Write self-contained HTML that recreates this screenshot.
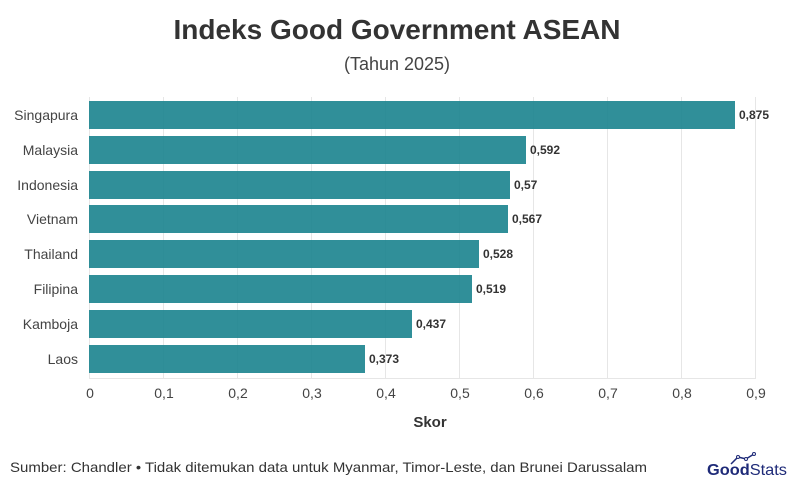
<!DOCTYPE html>
<html><head><meta charset="utf-8"><style>
body{margin:0;background:#fff;width:795px;height:490px;overflow:hidden;font-family:"Liberation Sans",sans-serif}
</style></head><body>
<svg width="795" height="490" xmlns="http://www.w3.org/2000/svg" font-family="Liberation Sans, sans-serif">
<text x="397" y="39" text-anchor="middle" font-size="28" font-weight="bold" fill="#333">Indeks Good Government ASEAN</text>
<text x="397" y="70" text-anchor="middle" font-size="18" fill="#444">(Tahun 2025)</text>
<g stroke="#e6e6e6" stroke-width="1">
<line x1="89.5" y1="97" x2="89.5" y2="378"/><line x1="163.5" y1="97" x2="163.5" y2="378"/><line x1="237.5" y1="97" x2="237.5" y2="378"/><line x1="311.5" y1="97" x2="311.5" y2="378"/><line x1="385.5" y1="97" x2="385.5" y2="378"/><line x1="459.5" y1="97" x2="459.5" y2="378"/><line x1="533.5" y1="97" x2="533.5" y2="378"/><line x1="607.5" y1="97" x2="607.5" y2="378"/><line x1="681.5" y1="97" x2="681.5" y2="378"/><line x1="755.5" y1="97" x2="755.5" y2="378"/>
<line x1="89" y1="378.5" x2="756" y2="378.5"/>
</g>
<g fill="#1e8590" fill-opacity="0.92">
<rect x="89" y="101" width="646" height="28"/>
<rect x="89" y="136" width="437" height="28"/>
<rect x="89" y="171" width="421" height="28"/>
<rect x="89" y="205" width="419" height="28"/>
<rect x="89" y="240" width="390" height="28"/>
<rect x="89" y="275" width="383" height="28"/>
<rect x="89" y="310" width="323" height="28"/>
<rect x="89" y="345" width="276" height="28"/>
</g>
<g font-size="12" font-weight="bold" fill="#333">
<text x="739" y="119">0,875</text><text x="530" y="154">0,592</text><text x="514" y="189">0,57</text><text x="512" y="223">0,567</text><text x="483" y="258">0,528</text><text x="476" y="293">0,519</text><text x="416" y="328">0,437</text><text x="369" y="363">0,373</text>
</g>
<g font-size="14" fill="#444" text-anchor="end">
<text x="78" y="120">Singapura</text><text x="78" y="155">Malaysia</text><text x="78" y="190">Indonesia</text><text x="78" y="224">Vietnam</text><text x="78" y="259">Thailand</text><text x="78" y="294">Filipina</text><text x="78" y="329">Kamboja</text><text x="78" y="364">Laos</text>
</g>
<g font-size="14" fill="#444" text-anchor="middle">
<text x="90" y="398">0</text><text x="164" y="398">0,1</text><text x="238" y="398">0,2</text><text x="312" y="398">0,3</text><text x="386" y="398">0,4</text><text x="460" y="398">0,5</text><text x="534" y="398">0,6</text><text x="608" y="398">0,7</text><text x="682" y="398">0,8</text><text x="756" y="398">0,9</text>
</g>
<text x="430" y="427" text-anchor="middle" font-size="15" font-weight="bold" fill="#333">Skor</text>
<text x="10" y="472" font-size="14" fill="#333" textLength="637" lengthAdjust="spacingAndGlyphs">Sumber: Chandler • Tidak ditemukan data untuk Myanmar, Timor-Leste, dan Brunei Darussalam</text>
<polyline points="731,464 738,457 746,459 754,454" fill="none" stroke="#1e2a78" stroke-width="1.5"/>
<circle cx="738" cy="457" r="1.5" fill="#fff" stroke="#1e2a78"/><circle cx="746" cy="459" r="1.5" fill="#fff" stroke="#1e2a78"/><circle cx="754" cy="454" r="1.5" fill="#fff" stroke="#1e2a78"/>
<text x="707" y="475" font-size="16" font-weight="bold" fill="#1e2a78" textLength="80" lengthAdjust="spacingAndGlyphs">Good<tspan font-weight="normal">Stats</tspan></text>
</svg>
</body></html>
